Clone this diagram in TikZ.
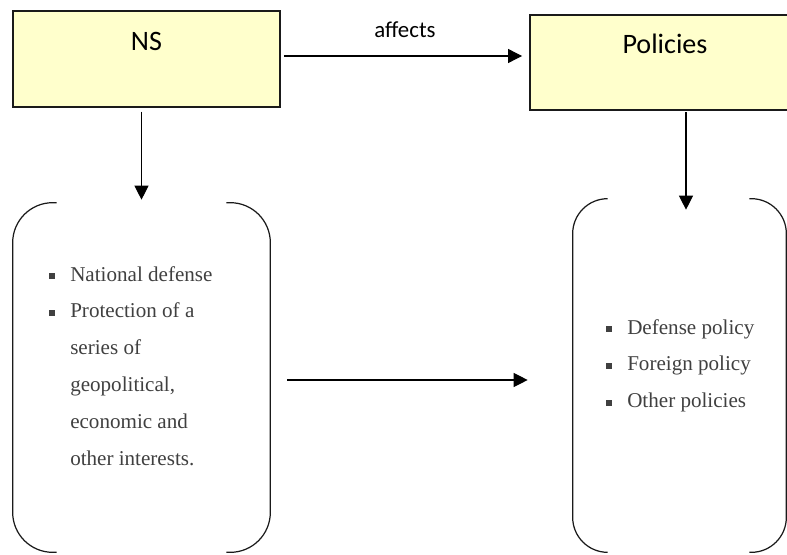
\documentclass[tikz,border=0pt]{standalone}
\usepackage{fontspec}
\setmainfont{Liberation Serif}
\newfontfamily\calibri{Carlito}
\usepackage{tikz}
\usetikzlibrary{arrows.meta,positioning}
\definecolor{BoxYellow}{HTML}{FFFFCC}
\definecolor{TextGray}{HTML}{404040}
\definecolor{Edge}{HTML}{1A1A1A}
\newcommand{\sqbullet}{\textcolor{TextGray}{\rule[1.2pt]{3.4pt}{3.4pt}}}

\begin{document}
\begin{tikzpicture}[
  x=0.02cm, y=-0.02cm,
  >=Triangle,
  title/.style={
    draw=Edge,
    fill=BoxYellow,
    line width=1.1pt,
    inner sep=0pt,
    text height=0.78cm,
    text depth=1.13cm,
    font=\calibri\fontsize{16}{19}\selectfont
  },
  holder/.style={inner sep=0pt},
  bracket/.style={draw=Edge,line width=0.7pt,rounded corners=0.8cm},
  items/.style={
    inner sep=0pt,
    anchor=base west,
    text=TextGray,
    font=\fontsize{12}{21}\selectfont
  },
  arrow/.style={-{Triangle[length=8pt,width=8pt]},draw=black,line width=0.6pt}
]
\useasboundingbox (0,0) rectangle (787,554);
\clip (0,0) rectangle (787,554);

% the two headers
\node[title,minimum width=5.34cm] (ns) at (146.5,59) {NS};
\node[title,minimum width=5.4cm] (pol) at (665,62.5) {Policies};

% bracketed lists below them
\node[holder,minimum width=5.14cm,minimum height=6.98cm] (lbox) at (141.5,377.5) {};
\node[holder,minimum width=4.26cm,minimum height=7.06cm] (rbox) at (679.5,375.5) {};

\draw[bracket] ([xshift=0.88cm]lbox.north west) -- (lbox.north west)
  -- (lbox.south west) -- ([xshift=0.88cm]lbox.south west);
\draw[bracket] ([xshift=-0.88cm]lbox.north east) -- (lbox.north east)
  -- (lbox.south east) -- ([xshift=-0.88cm]lbox.south east);
\draw[bracket,rounded corners=0.7cm] ([xshift=0.7cm]rbox.north west) -- (rbox.north west)
  -- (rbox.south west) -- ([xshift=0.7cm]rbox.south west);
\draw[bracket,rounded corners=0.7cm] ([xshift=-0.74cm]rbox.north east) -- (rbox.north east)
  -- (rbox.south east) -- ([xshift=-0.74cm]rbox.south east);

\node[items] (nsitems) at (49,281) {%
  \begin{tabular}[t]{@{}l@{\hspace{8.5pt}}l@{}}
    \sqbullet & National defense\\
    \sqbullet & Protection of a\\
              & series of\\
              & geopolitical,\\
              & economic and\\
              & other interests.
  \end{tabular}};
\node[items] (politems) at (606,334) {%
  \begin{tabular}[t]{@{}l@{\hspace{8.5pt}}l@{}}
    \sqbullet & Defense policy\\
    \sqbullet & Foreign policy\\
    \sqbullet & Other policies
  \end{tabular}};

% connectors
\draw[arrow,shorten <=0.06cm,shorten >=0.14cm] ([yshift=0.06cm]ns.east)
  -- node[above=7pt,font=\calibri\fontsize{13}{15}\selectfont] {affects}
  ([yshift=0.06cm]ns.east -| pol.west);
\draw[arrow,shorten <=0.08cm,shorten >=0.06cm] (ns.south -| lbox.north) -- (lbox.north);
\draw[arrow,shorten <=0.02cm] ([xshift=0.13cm]pol.south -| rbox.north)
  -- ([xshift=0.13cm,yshift=-0.22cm]rbox.north);
\draw[arrow,shorten <=0.34cm,shorten >=0.9cm] ([yshift=-0.05cm]lbox.east)
  -- ([yshift=-0.05cm]lbox.east -| rbox.west);
\end{tikzpicture}
\end{document}
